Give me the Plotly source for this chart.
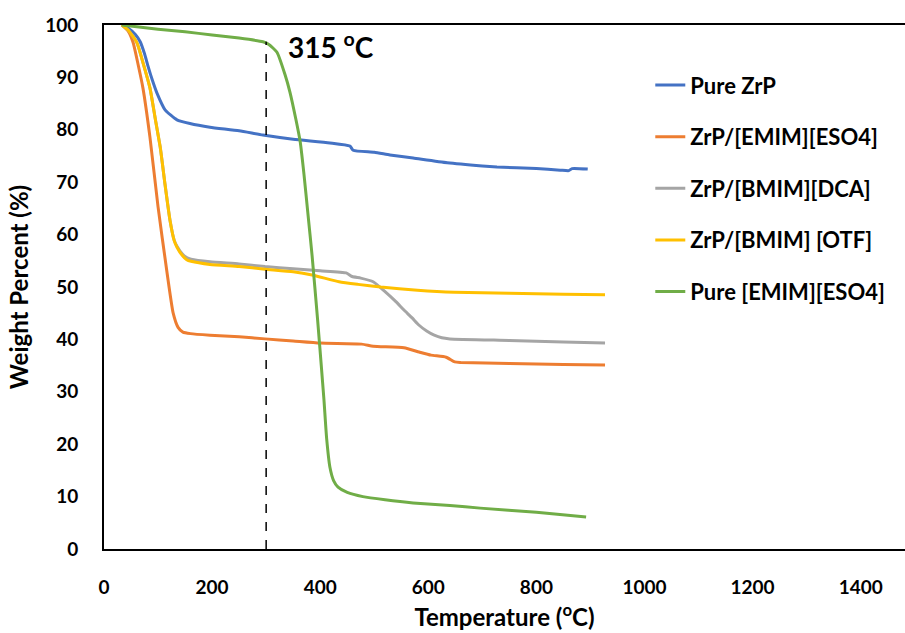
import plotly.graph_objects as go

# Temperature (°C) and weight percent (%)
zrp_T = [33, 45, 58, 67, 75, 81, 90, 98, 113, 135, 159, 196, 250, 294, 350, 418, 455, 461, 500, 529, 572, 635, 700, 727, 800, 844, 860, 866, 895]
zrp_W = [100, 99.4, 98.2, 96.8, 94.5, 92.3, 89.3, 87, 83.8, 81.9, 81.2, 80.5, 79.8, 79.0, 78.2, 77.5, 76.9, 76.1, 75.7, 75.2, 74.6, 73.7, 73.1, 72.9, 72.6, 72.3, 72.2, 72.6, 72.5]

emim_T = [33, 45, 54, 63, 72, 85, 100, 116, 128, 137, 146, 160, 196, 250, 298, 350, 400, 477, 498, 555, 583, 605, 633, 649, 660, 750, 850, 927]
emim_W = [100, 98.8, 96.6, 92.5, 88, 78.6, 65.3, 53.2, 45, 42.3, 41.4, 41.1, 40.8, 40.5, 40.1, 39.7, 39.3, 39.1, 38.7, 38.4, 37.6, 37, 36.6, 35.7, 35.6, 35.4, 35.2, 35.1]

dca_T = [33, 45, 61, 73, 85, 95, 104, 113, 122, 130, 135, 145, 153, 161, 196, 250, 298, 350, 400, 448, 459, 475, 498, 520, 540, 555, 570, 583, 597, 611, 625, 640, 750, 850, 927]
dca_W = [100, 99, 96.6, 92.5, 88, 82, 76.7, 69.5, 62.8, 58.9, 57.8, 56.3, 55.6, 55.3, 54.8, 54.4, 53.9, 53.5, 53.1, 52.7, 52, 51.7, 51, 49.1, 47.2, 45.6, 44.1, 42.7, 41.6, 40.8, 40.3, 40.1, 39.8, 39.5, 39.3]

otf_T = [33, 45, 61, 73, 85, 95, 104, 113, 122, 130, 135, 145, 153, 161, 196, 250, 298, 350, 385, 435, 470, 512, 580, 648, 750, 850, 927]
otf_W = [100, 99, 96.6, 92.5, 88, 82, 76.7, 69.5, 62.8, 58.8, 57.6, 56, 55.2, 54.9, 54.3, 53.9, 53.4, 52.9, 52.3, 51, 50.5, 50, 49.4, 49, 48.8, 48.6, 48.5]

pure_T = [33, 100, 150, 200, 250, 294, 305, 320, 335, 344, 355, 363, 370, 377, 385, 395, 402, 407, 412, 418, 425, 433, 450, 479, 520, 572, 640, 696, 800, 892]
pure_W = [100, 99.2, 98.7, 98.1, 97.5, 96.8, 96.3, 94.8, 90.5, 87.2, 82, 77.7, 71.5, 64.3, 56, 44, 35, 28.4, 21, 15.6, 13, 11.8, 10.8, 10, 9.4, 8.8, 8.3, 7.8, 7, 6.1]

series = [
    ("Pure ZrP", zrp_T, zrp_W, "#4472C4"),
    ("ZrP/[EMIM][ESO4]", emim_T, emim_W, "#ED7D31"),
    ("ZrP/[BMIM][DCA]", dca_T, dca_W, "#A5A5A5"),
    ("ZrP/[BMIM] [OTF]", otf_T, otf_W, "#FFC000"),
    ("Pure [EMIM][ESO4]", pure_T, pure_W, "#70AD47"),
]

onset_T = 300
onset_W = 96.8
onset_label = "315 <sup>o</sup>C"

x_ticks = [0, 200, 400, 600, 800, 1000, 1200, 1400]
y_ticks = [0, 10, 20, 30, 40, 50, 60, 70, 80, 90, 100]

FONT = "Lato"

fig = go.Figure()
for i, (name, t, w, c) in enumerate(series):
    fig.add_trace(go.Scatter(
        x=t, y=w, mode="lines", name=name, legendgroup=str(i),
        line=dict(color=c, width=3, shape="spline", smoothing=0.5),
    ))

fig.add_shape(type="line", xref="x", yref="y", x0=onset_T, x1=onset_T, y0=0, y1=onset_W,
              line=dict(color="black", width=1.5, dash="dash"))
fig.add_annotation(x=onset_T, y=onset_W, xref="x", yref="y", text=onset_label,
                   showarrow=False, xanchor="left", yanchor="bottom", xshift=20, yshift=-24,
                   font=dict(family=FONT, size=28, color="black", weight="bold"))

fig.update_layout(
    width=905, height=633,
    margin=dict(l=104, r=0, t=25, b=84),
    paper_bgcolor="white", plot_bgcolor="white",
    font=dict(family=FONT, color="black"),
    showlegend=True,
    legend=dict(x=0.682, y=0.925, xanchor="left", yanchor="top",
                font=dict(family=FONT, size=22, color="black", weight="bold"),
                tracegroupgap=20, bgcolor="rgba(0,0,0,0)"),
    xaxis=dict(range=[0, 1482], tickvals=x_ticks, ticktext=[str(v) for v in x_ticks],
               showgrid=False, zeroline=False, showline=True, linecolor="black", linewidth=2,
               mirror=True, ticks="", ticklabelstandoff=20,
               tickfont=dict(family=FONT, size=19, color="black", weight="bold"),
               title=dict(text="Temperature (<sup>o</sup>C)", standoff=12,
                          font=dict(family=FONT, size=24, color="black", weight="bold"))),
    yaxis=dict(range=[0, 100], tickvals=y_ticks, ticktext=[str(v) for v in y_ticks],
               showgrid=False, zeroline=False, showline=True, linecolor="black", linewidth=2,
               ticks="", ticklabelstandoff=20,
               tickfont=dict(family=FONT, size=19, color="black", weight="bold"),
               title=dict(text="Weight Percent (%)", standoff=10,
                          font=dict(family=FONT, size=24, color="black", weight="bold"))),
)

fig.write_html("out.html")
